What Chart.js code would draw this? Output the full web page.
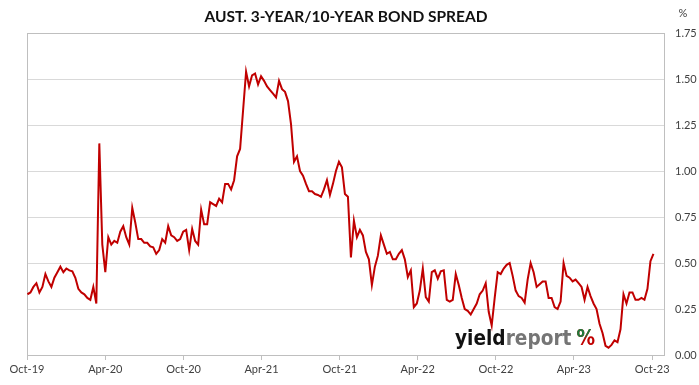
<!DOCTYPE html>
<html>
<head>
<meta charset="utf-8">
<script src="https://cdn.jsdelivr.net/npm/chart.js@4.4.0/dist/chart.umd.min.js"></script>
<style>
  body { margin: 0; background: #fff; }
  #wrap { width: 699px; height: 385px; }
</style>
</head>
<body>
<div id="wrap"><canvas id="spreadChart" width="699" height="385"></canvas></div>
<script>
// weekly readings, first one on startDate
const startDate = '2019-10-02';
const axisEnd = '2023-10-31';
const tickDates = ['2019-10-01', '2020-04-01', '2020-10-01', '2021-04-01', '2021-10-01',
                   '2022-04-01', '2022-10-01', '2023-04-01', '2023-10-01'];
const tickLabels = ['Oct-19', 'Apr-20', 'Oct-20', 'Apr-21', 'Oct-21', 'Apr-22', 'Oct-22', 'Apr-23', 'Oct-23'];
const yTicks = [0, 0.25, 0.5, 0.75, 1, 1.25, 1.5, 1.75];
const chartTitle = 'AUST. 3-YEAR/10-YEAR BOND SPREAD';

// 3yr/10yr spread, % (one value per week)
const spread = [
  0.33, 0.34, 0.37, 0.39, 0.34, 0.37, 0.44, 0.40, 0.37, 0.42,
  0.45, 0.48, 0.45, 0.47, 0.46, 0.455, 0.42, 0.36, 0.34, 0.33,
  0.31, 0.30, 0.37, 0.28, 1.15, 0.60, 0.45, 0.64, 0.60, 0.62,
  0.61, 0.67, 0.70, 0.64, 0.60, 0.80, 0.72, 0.63, 0.63, 0.61,
  0.61, 0.59, 0.585, 0.55, 0.57, 0.63, 0.61, 0.70, 0.65, 0.64,
  0.62, 0.63, 0.67, 0.68, 0.57, 0.685, 0.62, 0.60, 0.79, 0.71,
  0.71, 0.83, 0.82, 0.81, 0.85, 0.83, 0.93, 0.93, 0.90, 0.95,
  1.08, 1.12, 1.33, 1.54, 1.46, 1.52, 1.53, 1.47, 1.515, 1.49,
  1.46, 1.44, 1.42, 1.40, 1.49, 1.445, 1.43, 1.38, 1.255, 1.05,
  1.08, 1.00, 0.975, 0.93, 0.89, 0.89, 0.875, 0.87, 0.86, 0.90,
  0.95, 0.87, 0.93, 1.00, 1.05, 1.02, 0.875, 0.86, 0.53, 0.73,
  0.64, 0.68, 0.65, 0.56, 0.52, 0.38, 0.48, 0.54, 0.65, 0.60,
  0.55, 0.56, 0.52, 0.52, 0.55, 0.57, 0.52, 0.424, 0.46, 0.26,
  0.28, 0.35, 0.47, 0.315, 0.29, 0.45, 0.46, 0.415, 0.455, 0.46,
  0.30, 0.29, 0.30, 0.44, 0.38, 0.31, 0.25, 0.24, 0.22, 0.25,
  0.28, 0.33, 0.35, 0.39, 0.235, 0.16, 0.31, 0.45, 0.44, 0.47,
  0.49, 0.50, 0.43, 0.35, 0.32, 0.31, 0.285, 0.41, 0.50, 0.45,
  0.37, 0.385, 0.40, 0.40, 0.31, 0.31, 0.26, 0.25, 0.29, 0.50,
  0.43, 0.42, 0.40, 0.41, 0.39, 0.37, 0.30, 0.37, 0.32, 0.28,
  0.25, 0.17, 0.12, 0.05, 0.04, 0.055, 0.08, 0.07, 0.14, 0.33,
  0.28, 0.34, 0.34, 0.30, 0.30, 0.31, 0.30, 0.36, 0.51, 0.55
];

const DAY = 86400000;
const dayOf = (s) => (Date.parse(s) - Date.parse('2019-10-01')) / DAY;
const firstDay = dayOf(startDate);

const fontFamily = 'Lato, "Open Sans", sans-serif';
const labelFont = { family: fontFamily, size: 11 };

// title, plot box, "%" unit label and the yieldreport mark
const chartFrame = {
    id: 'chartFrame',
    beforeDatasetsDraw(chart) {
        const { ctx, chartArea: a } = chart;
        ctx.save();
        ctx.strokeStyle = '#BFBFBF';
        ctx.lineWidth = 1;
        ctx.strokeRect(Math.round(a.left) + 0.5, Math.round(a.top) + 0.5,
                       Math.round(a.width) - 1, Math.round(a.height));

        // watermark
        ctx.font = 'bold 22px "DejaVu Sans Condensed", "Liberation Sans Narrow", "Liberation Sans", sans-serif';
        ctx.textBaseline = 'alphabetic';
        const parts = ['yield', 'report', '%'];
        const widths = parts.map(p => ctx.measureText(p).width);
        const gap = 5;
        const sx = (140 - gap) / (widths[0] + widths[1] + widths[2]);
        ctx.translate(455, 345);
        ctx.scale(sx, 1);
        ctx.fillStyle = '#111111';
        ctx.fillText('yield', 0, 0);
        ctx.fillStyle = '#757575';
        ctx.fillText('report', widths[0], 0);
        const px = widths[0] + widths[1] + gap / sx;
        ctx.fillStyle = '#C00000';
        ctx.fillText('%', px, 0);
        ctx.beginPath();
        ctx.moveTo(px - 2, -20);
        ctx.lineTo(px + widths[2] + 2, -20);
        ctx.lineTo(px - 2, 4);
        ctx.closePath();
        ctx.clip();
        ctx.fillStyle = '#1E7B3C';
        ctx.fillText('%', px, 0);
        ctx.restore();
    },
    afterDraw(chart) {
        const { ctx } = chart;
        ctx.save();
        ctx.textAlign = 'center';
        ctx.textBaseline = 'middle';
        ctx.fillStyle = '#111111';
        ctx.font = 'bold 15.5px ' + fontFamily;
        ctx.fillText(chartTitle, 346, 17);
        ctx.font = '11px ' + fontFamily;
        ctx.fillStyle = '#404040';
        ctx.fillText('%', 683, 13);
        ctx.restore();
    }
};

new Chart(document.getElementById('spreadChart'), {
    type: 'line',
    data: {
        datasets: [{
            label: 'Spread',
            data: spread.map((v, i) => ({ x: firstDay + i * 7, y: v })),
            borderColor: '#C00000',
            borderWidth: 2,
            pointRadius: 0,
            tension: 0,
            fill: false
        }]
    },
    options: {
        responsive: false,
        devicePixelRatio: 1,
        animation: false,
        layout: { padding: { left: 27, right: 0, top: 33, bottom: 0 } },
        plugins: {
            legend: { display: false },
            tooltip: { enabled: false }
        },
        scales: {
            x: {
                type: 'linear',
                min: 0,
                max: dayOf(axisEnd),
                afterBuildTicks: (scale) => {
                    scale.ticks = tickDates.map(d => ({ value: dayOf(d) }));
                },
                afterFit: (scale) => { scale.height = 30; },
                grid: { drawOnChartArea: false, color: '#BFBFBF', tickLength: 5 },
                border: { display: false },
                ticks: {
                    autoSkip: false,
                    maxRotation: 0,
                    padding: 3,
                    color: '#404040',
                    font: labelFont,
                    callback: (v, i) => tickLabels[i]
                }
            },
            y: {
                position: 'right',
                min: 0,
                max: 1.75,
                afterBuildTicks: (scale) => {
                    scale.ticks = yTicks.map(v => ({ value: v }));
                },
                afterFit: (scale) => { scale.width = 34; },
                grid: { color: '#D9D9D9', drawTicks: false, tickLength: 0 },
                border: { display: false },
                ticks: {
                    padding: 10,
                    color: '#404040',
                    font: labelFont,
                    callback: (v) => v.toFixed(2)
                }
            }
        }
    },
    plugins: [chartFrame]
});
</script>
</body>
</html>
